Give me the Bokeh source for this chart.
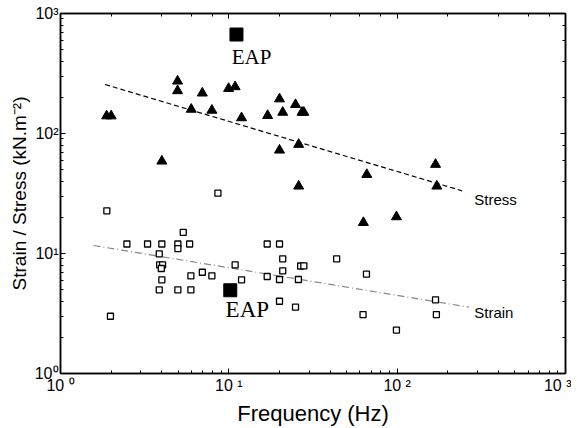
from bokeh.plotting import figure
from bokeh.models import LogAxis, Range1d
from bokeh.embed import file_html
from bokeh.resources import INLINE
from bokeh.core.properties import value

# Stress data (filled triangles)
stress_freq = [1.88, 2.0, 4.96, 4.96, 6.96, 5.98, 7.93, 9.97, 10.9, 11.9, 17.0, 20.0,
               20.9, 24.9, 27.2, 27.9, 26.0, 20.0, 4.0, 26.0, 66.0, 169.0, 172.0, 63.0, 99.0]
stress_val = [140, 140, 273, 227, 217, 159, 156, 237, 245, 135, 141, 194,
              150, 174, 150, 150, 81, 72.6, 58.8, 36.4, 45.5, 55.2, 36.4, 18.1, 20.2]

# Strain data (open squares)
strain_freq = [8.61, 1.885, 5.36, 2.48, 3.29, 4.0, 4.98, 5.85, 16.9, 20.0, 4.98, 3.86,
               3.88, 4.04, 3.97, 10.9, 20.9, 43.7, 26.7, 27.9, 6.96, 20.9, 4.0, 5.95,
               7.93, 11.9, 16.9, 20.0, 25.9, 3.86, 4.98, 5.95, 20.0, 24.9, 1.98, 65.7,
               169.0, 62.7, 171.0, 99.0]
strain_val = [31.8, 22.7, 15.0, 12.0, 12.0, 12.0, 12.0, 12.0, 12.0, 12.0, 11.0, 9.94,
              8.05, 8.05, 7.5, 8.05, 9.03, 9.03, 7.87, 7.9, 6.98, 7.17, 6.04, 6.52,
              6.52, 6.04, 6.43, 6.07, 6.07, 4.98, 4.98, 4.98, 4.0, 3.57, 3.0, 6.72,
              4.11, 3.1, 3.1, 2.3]

# EAP points
eap_freq = [11.1, 10.2]
eap_val = [668, 4.94]

# Trend lines (end points)
stress_fit_freq = [1.84, 243]
stress_fit_val = [256, 33.3]
strain_fit_freq = [1.57, 267]
strain_fit_val = [11.66, 3.57]

x_ticks = [1, 10, 100, 1000]
x_tick_labels = ["10 \u2070", "10 \u00b9", "10 \u00b2", "10 \u00b3"]
y_ticks = [1, 10, 100, 1000]
y_tick_labels = ["10\u2070", "10\u00b9", "10\u00b2", "10\u00b3"]

FONT = "Liberation Sans"

p = figure(x_axis_type="log", y_axis_type="log",
           x_range=Range1d(1, 1000), y_range=Range1d(1, 1000),
           frame_width=505, frame_height=360,
           min_border_left=60, min_border_top=13, min_border_right=6, min_border_bottom=10,
           output_backend="svg", toolbar_location=None,
           background_fill_color="white", border_fill_color="white")
p.grid.visible = False
p.outline_line_color = "black"
p.outline_line_width = 1.5

def style_axis(ax, labels=True):
    ax.axis_line_width = 1.5
    ax.axis_line_color = "black"
    ax.major_tick_in = 5
    ax.major_tick_out = 0
    ax.minor_tick_in = 3
    ax.minor_tick_out = 0
    ax.major_tick_line_color = "black"
    ax.minor_tick_line_color = "black"
    ax.major_label_text_font = FONT
    ax.major_label_text_font_size = "16px"
    ax.major_label_text_color = "black"
    ax.major_label_standoff = 3
    ax.axis_label_text_font = FONT
    ax.axis_label_text_font_style = "normal"
    ax.axis_label_text_font_size = "19px"
    ax.axis_label_text_color = "black"
    if not labels:
        ax.major_label_text_font_size = "1px"
        ax.major_label_text_color = None
        ax.major_label_standoff = 0

xa = p.xaxis[0]
ya = p.yaxis[0]
style_axis(xa)
style_axis(ya)
xa.major_label_overrides = {t: l for t, l in zip(x_ticks, x_tick_labels)}
ya.major_label_overrides = {t: l for t, l in zip(y_ticks, y_tick_labels)}
ya.major_label_standoff = 2
xa.axis_label = "Frequency (Hz)"
xa.axis_label_text_font_size = "22px"
ya.axis_label = "Strain / Stress (kN.m\u207b\u00b2)"
xa.axis_label_standoff = 4
ya.axis_label_standoff = 2

top = LogAxis()
right = LogAxis()
style_axis(top, labels=False)
style_axis(right, labels=False)
p.add_layout(top, "above")
p.add_layout(right, "right")

# trend lines
p.line(stress_fit_freq, stress_fit_val, line_color="black", line_width=1.2, line_dash="5 3")
p.line(strain_fit_freq, strain_fit_val, line_color="#888888", line_width=1.2, line_dash="7 3 1 3")

# data
p.scatter(stress_freq, stress_val, marker="triangle", size=10, fill_color="black", line_color="black")
p.scatter(strain_freq, strain_val, marker="square", size=6, fill_color="white",
          line_color="black", line_width=1.3)
p.scatter(eap_freq, eap_val, marker="square", size=13, fill_color="black", line_color="black")

# annotations
p.text(x=[10.4], y=[430], text=["EAP"], text_font=value("Liberation Serif"),
       text_font_size="21px", text_baseline="alphabetic", text_color="black")
p.text(x=[9.57], y=[3.4], text=["EAP"], text_font=value("Liberation Serif"),
       text_font_size="23px", text_baseline="alphabetic", text_color="black")
p.text(x=[287], y=[28.2], text=["Stress"], text_font=value(FONT),
       text_font_size="15px", text_baseline="middle", text_color="black")
p.text(x=[287], y=[3.22], text=["Strain"], text_font=value(FONT),
       text_font_size="15px", text_baseline="middle", text_color="black")

open("out.html", "w").write(file_html(p, INLINE))
